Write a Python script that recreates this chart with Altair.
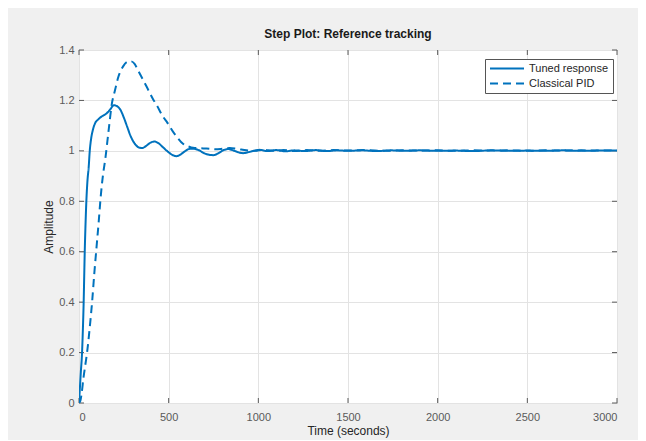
import altair as alt
import pandas as pd

# ---- data ----
series_names = ["Tuned response", "Classical PID"]

tuned_t = [0, 5, 10, 17, 22, 26, 29, 32, 36, 41, 47, 54, 60, 68, 78, 90, 106, 128, 153, 175,
           194, 210, 231, 250, 268, 290, 315, 335, 352, 375, 400, 420, 440, 470, 497, 520,
           543, 565, 590, 618, 640, 664, 700, 730, 750, 780, 810, 832, 860, 890, 915, 945,
           975, 1008, 1050, 1100, 1150, 1200, 1260, 1320, 1380, 1440, 1500, 1580, 1660,
           1740, 1820, 1900, 2000, 2100, 2200, 2300, 2400, 2500, 2600, 2700, 2800, 2900, 3000]
tuned_y = [0, 0.06, 0.12, 0.2, 0.3, 0.4, 0.5, 0.6, 0.7, 0.8, 0.88, 0.935, 1.0, 1.05, 1.085,
           1.11, 1.124, 1.137, 1.148, 1.165, 1.181, 1.178, 1.163, 1.132, 1.097, 1.055, 1.025,
           1.013, 1.011, 1.02, 1.033, 1.037, 1.032, 1.013, 0.996, 0.984, 0.979, 0.985, 0.998,
           1.008, 1.008, 1.004, 0.99, 0.984, 0.983, 0.992, 1.004, 1.007, 1.002, 0.994, 0.991,
           0.995, 1.0, 1.004, 0.999, 1.003, 0.998, 1.002, 0.999, 1.003, 0.999, 1.002, 1.0,
           1.002, 0.999, 1.002, 1.0, 1.002, 1.0, 1.001, 0.999, 1.002, 1.0, 1.001, 1.0, 1.002,
           1.0, 1.001, 1.001]

pid_t = [0, 8, 15, 25, 35, 45, 60, 73, 86, 98, 110, 120, 133, 147, 165, 184, 200, 218, 246,
         270, 290, 310, 330, 376, 413, 432, 469, 488, 525, 544, 580, 609, 636, 680, 711, 760,
         800, 841, 880, 934, 980, 1030, 1080, 1140, 1200, 1270, 1340, 1420, 1500, 1600, 1700,
         1800, 1900, 2000, 2100, 2200, 2300, 2400, 2500, 2600, 2700, 2800, 2900, 3000]
pid_y = [0, 0.01, 0.04, 0.1, 0.15, 0.2, 0.3, 0.4, 0.52, 0.62, 0.72, 0.81, 0.9, 0.97, 1.08,
         1.19, 1.238, 1.29, 1.335, 1.353, 1.355, 1.345, 1.318, 1.256, 1.205, 1.183, 1.135,
         1.117, 1.075, 1.057, 1.028, 1.018, 1.012, 1.01, 1.009, 1.006, 1.008, 1.011, 1.008,
         1.002, 1.0, 1.004, 1.0, 1.003, 0.999, 1.003, 1.0, 1.003, 1.001, 1.003, 1.0, 1.002,
         1.001, 1.002, 1.0, 1.002, 1.001, 1.002, 1.0, 1.002, 1.001, 1.002, 1.001, 1.001]

x_ticks = [0, 500, 1000, 1500, 2000, 2500, 3000]
y_ticks = [0, 0.2, 0.4, 0.6, 0.8, 1.0, 1.2, 1.4]

df = pd.concat([
    pd.DataFrame({"t": tuned_t, "y": tuned_y, "series": series_names[0]}),
    pd.DataFrame({"t": pid_t, "y": pid_y, "series": series_names[1]}),
])
xt = pd.DataFrame({"t": x_ticks})
yt = pd.DataFrame({"y": y_ticks})

W, H = 538, 353
FONT = "Liberation Sans"
BLUE = "#0072BD"
TICKC = "#5a5a5a"

x_enc = alt.X("t:Q", scale=alt.Scale(domain=[0, 3000], nice=False, zero=False),
              axis=alt.Axis(values=x_ticks, format="d", title="Time (seconds)"))
y_enc = alt.Y("y:Q", scale=alt.Scale(domain=[0, 1.4], nice=False),
              axis=alt.Axis(values=y_ticks, format="~g", title="Amplitude"))

leg = alt.Legend(title=None, orient="none", legendX=406, legendY=9,
                 symbolType="stroke", symbolSize=1156, symbolStrokeWidth=2,
                 clipHeight=11,
                 labelFont=FONT, labelFontSize=11, labelColor="#262626",
                 fillColor="white", strokeColor="#555555", padding=4,
                 rowPadding=3, labelOffset=4, cornerRadius=0)

lines = alt.Chart(df).mark_line(strokeWidth=2, interpolate="monotone", clip=True).encode(
    x=x_enc,
    y=y_enc,
    color=alt.Color("series:N", scale=alt.Scale(domain=series_names, range=[BLUE, BLUE]),
                    legend=leg),
    strokeDash=alt.StrokeDash("series:N",
                              scale=alt.Scale(domain=series_names, range=[[1, 0], [8, 5]]),
                              legend=leg),
)

xb = alt.Chart(xt).mark_rule(color=TICKC, strokeWidth=1).encode(
    x=x_enc, y=alt.value(H), y2=alt.value(H - 5))
xtop = alt.Chart(xt).mark_rule(color=TICKC, strokeWidth=1).encode(
    x=x_enc, y=alt.value(0), y2=alt.value(5))
yl = alt.Chart(yt).mark_rule(color=TICKC, strokeWidth=1).encode(
    y=y_enc, x=alt.value(0), x2=alt.value(5))
yr = alt.Chart(yt).mark_rule(color=TICKC, strokeWidth=1).encode(
    y=y_enc, x=alt.value(W), x2=alt.value(W - 5))

chart = alt.layer(xb, xtop, yl, yr, lines).properties(
    width=W, height=H,
    title=alt.Title("Step Plot: Reference tracking", font=FONT, fontSize=12,
                    fontWeight="bold", color="#1a1a1a", anchor="middle", offset=3),
    background="#f0f0f0",
    autosize=alt.AutoSizeParams(type="none"),
    padding={"left": 71, "top": 42, "right": 21, "bottom": 37},
).configure_view(
    fill="white", stroke="#6e6e6e", strokeWidth=1
).configure_axis(
    grid=True, gridColor="#e3e3e3", gridWidth=1,
    domain=False, ticks=False, tickSize=0,
    labelFont=FONT, labelFontSize=11, labelColor=TICKC, labelPadding=5,
    titleFont=FONT, titleFontSize=12, titleFontWeight="normal", titleColor="#262626",
).configure_axisX(
    labelPadding=8, titlePadding=3,
).configure_axisY(
    titlePadding=3,
)

chart.save("out.html", embed_options={"renderer": "svg", "actions": False})
